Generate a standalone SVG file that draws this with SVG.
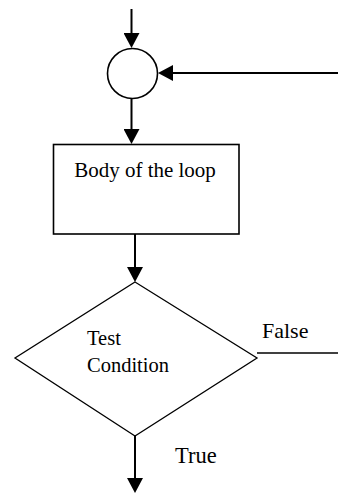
<svg xmlns="http://www.w3.org/2000/svg" width="338" height="493" viewBox="0 0 338 493">
  <style>
    .shape { fill: #fff; stroke: #000; }
    .flow { stroke: #000; stroke-width: 2; fill: none; marker-end: url(#arrow); }
    .plain { stroke: #000; stroke-width: 1.5; fill: none; }
    text { font-family: "Liberation Serif", "Times New Roman", serif; fill: #000; }
  </style>
  <defs>
    <marker id="arrow" markerUnits="userSpaceOnUse" markerWidth="15" markerHeight="16"
            viewBox="0 0 15 16" refX="4" refY="8" orient="auto">
      <path d="M0,0 L15,8 L0,16 z" fill="#000"/>
    </marker>
  </defs>

  <!-- connectors -->
  <g id="connectors">
    <line class="flow" x1="131.5" y1="9" x2="131.5" y2="37"/>
    <line class="flow" x1="338" y1="73" x2="169" y2="73"/>
    <line class="flow" x1="131.5" y1="99" x2="131.5" y2="133"/>
    <line class="flow" x1="135" y1="234" x2="135" y2="271"/>
    <line class="flow" x1="135" y1="436" x2="135" y2="482"/>
    <line class="plain" x1="257" y1="353" x2="338" y2="353"/>
  </g>

  <!-- junction circle -->
  <g id="junction">
    <circle class="shape" cx="132.5" cy="73.5" r="25" stroke-width="1.6"/>
  </g>

  <!-- loop body -->
  <g id="body">
    <rect class="shape" x="53.5" y="144.5" width="185.5" height="89.5" stroke-width="1.6"/>
    <text x="145" y="177" font-size="21" text-anchor="middle">Body of the loop</text>
  </g>

  <!-- decision -->
  <g id="test">
    <polygon class="shape" points="135,282 257,358 135,436 15,358" stroke-width="1.3"/>
    <text x="87" y="345" font-size="20.5">Test</text>
    <text x="87" y="372" font-size="20.5">Condition</text>
  </g>

  <!-- branch labels -->
  <g id="labels">
    <text x="262" y="338" font-size="22">False</text>
    <text x="175" y="463" font-size="22.5">True</text>
  </g>
</svg>
